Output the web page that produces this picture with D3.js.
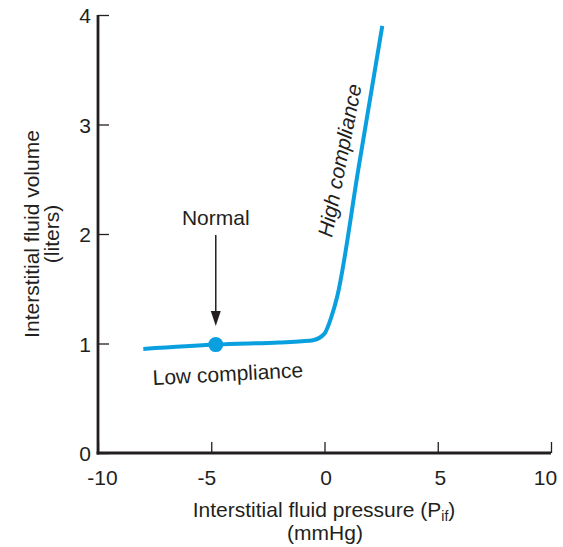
<!DOCTYPE html>
<html><head><meta charset="utf-8">
<script src="https://cdn.jsdelivr.net/npm/d3@7"></script>
<style>body{margin:0;background:#fff}svg{display:block}text{font-family:"Liberation Sans",Arial,sans-serif;fill:#231f20}</style>
</head><body>
<script>
const pressure = [-8, -4.8, -2, -1, -0.5, 0, 0.3, 0.55, 1.5, 2.55];
const volume   = [0.95, 0.99, 1.01, 1.02, 1.03, 1.09, 1.24, 1.42, 2.6, 3.9];
const normalPoint = {x: -4.8, y: 0.99};
const xTicks = [-10, -5, 0, 5, 10];
const yTicks = [0, 1, 2, 3, 4];

const W = 563, H = 547;
const FS = 21;
const svg = d3.select("body").append("svg").attr("width", W).attr("height", H);
const x = d3.scaleLinear().domain([-10, 10]).range([98, 551]);
const y = d3.scaleLinear().domain([0, 4]).range([453, 15]);
const ink = "#231f20", blue = "#0aa0e0";

// axes
const gx = svg.append("g").attr("transform", `translate(0,${y(0)})`)
  .call(d3.axisBottom(x).tickValues(xTicks).tickSize(-11).tickSizeOuter(0).tickPadding(16).tickFormat(d => String(d)));
const gy = svg.append("g").attr("transform", `translate(${x(-10)},0)`)
  .call(d3.axisLeft(y).tickValues(yTicks).tickSize(-11).tickSizeOuter(0).tickPadding(7).tickFormat(d => String(d)));
[gx, gy].forEach(g => {
  g.select(".domain").attr("stroke", ink).attr("stroke-width", 2.8);
  g.selectAll(".tick line").attr("stroke", ink).attr("stroke-width", 1.3);
  g.selectAll(".tick text").attr("font-size", FS).attr("fill", ink)
    .style("font-family", '"Liberation Sans",Arial,sans-serif');
});
const xLabelShift = {"-10": 4, "-5": -5, "0": 1, "5": 2, "10": -6};
gx.selectAll(".tick text").attr("y", 32).attr("dy", 0).attr("dx", d => xLabelShift[d] || 0);
gy.selectAll(".tick text").attr("dy", "0.36em");
gy.select(".domain").attr("d", `M0,${y(4)}V${y(0) + 1.4}`);
gx.select(".domain").attr("d", `M${x(-10) - 1.4},0H${x(10)}`);

// curve
const line = d3.line().x((d, i) => x(pressure[i])).y((d, i) => y(volume[i])).curve(d3.curveMonotoneX);
svg.append("path").datum(pressure).attr("d", line)
  .attr("fill", "none").attr("stroke", blue).attr("stroke-width", 4).attr("stroke-linecap", "butt");
svg.append("circle").attr("cx", x(normalPoint.x)).attr("cy", y(normalPoint.y)).attr("r", 7.5).attr("fill", blue);

// arrow
const ax = x(normalPoint.x);
svg.append("line").attr("x1", ax).attr("x2", ax)
  .attr("y1", 235).attr("y2", 314).attr("stroke", ink).attr("stroke-width", 1.5);
svg.append("path").attr("d", `M${ax - 5},311L${ax + 5},311L${ax},326Z`).attr("fill", ink);

svg.append("text").attr("x", ax).attr("y", 225).attr("text-anchor", "middle").attr("font-size", FS).text("Normal");
svg.append("text").attr("transform", "translate(153,385) rotate(-3)").attr("font-size", FS).text("Low compliance");
svg.append("text").attr("transform", "translate(332,238) rotate(-79)").attr("font-size", FS)
  .attr("font-style", "italic").text("High compliance");

// axis titles
const yt = svg.append("text").attr("transform", `translate(39,234) rotate(-90)`).attr("text-anchor", "middle").attr("font-size", FS);
yt.append("tspan").attr("x", 0).attr("dy", 0).text("Interstitial fluid volume");
yt.append("tspan").attr("x", 0).attr("dy", 20).text("(liters)");

const xt = svg.append("text").attr("x", 324).attr("y", 517).attr("text-anchor", "middle").attr("font-size", FS);
xt.append("tspan").text("Interstitial fluid pressure (P");
xt.append("tspan").attr("font-size", 14).attr("dy", 4).text("if");
xt.append("tspan").attr("dy", -4).text(")");
svg.append("text").attr("x", 325).attr("y", 540).attr("text-anchor", "middle").attr("font-size", FS).text("(mmHg)");
</script>
</body></html>
